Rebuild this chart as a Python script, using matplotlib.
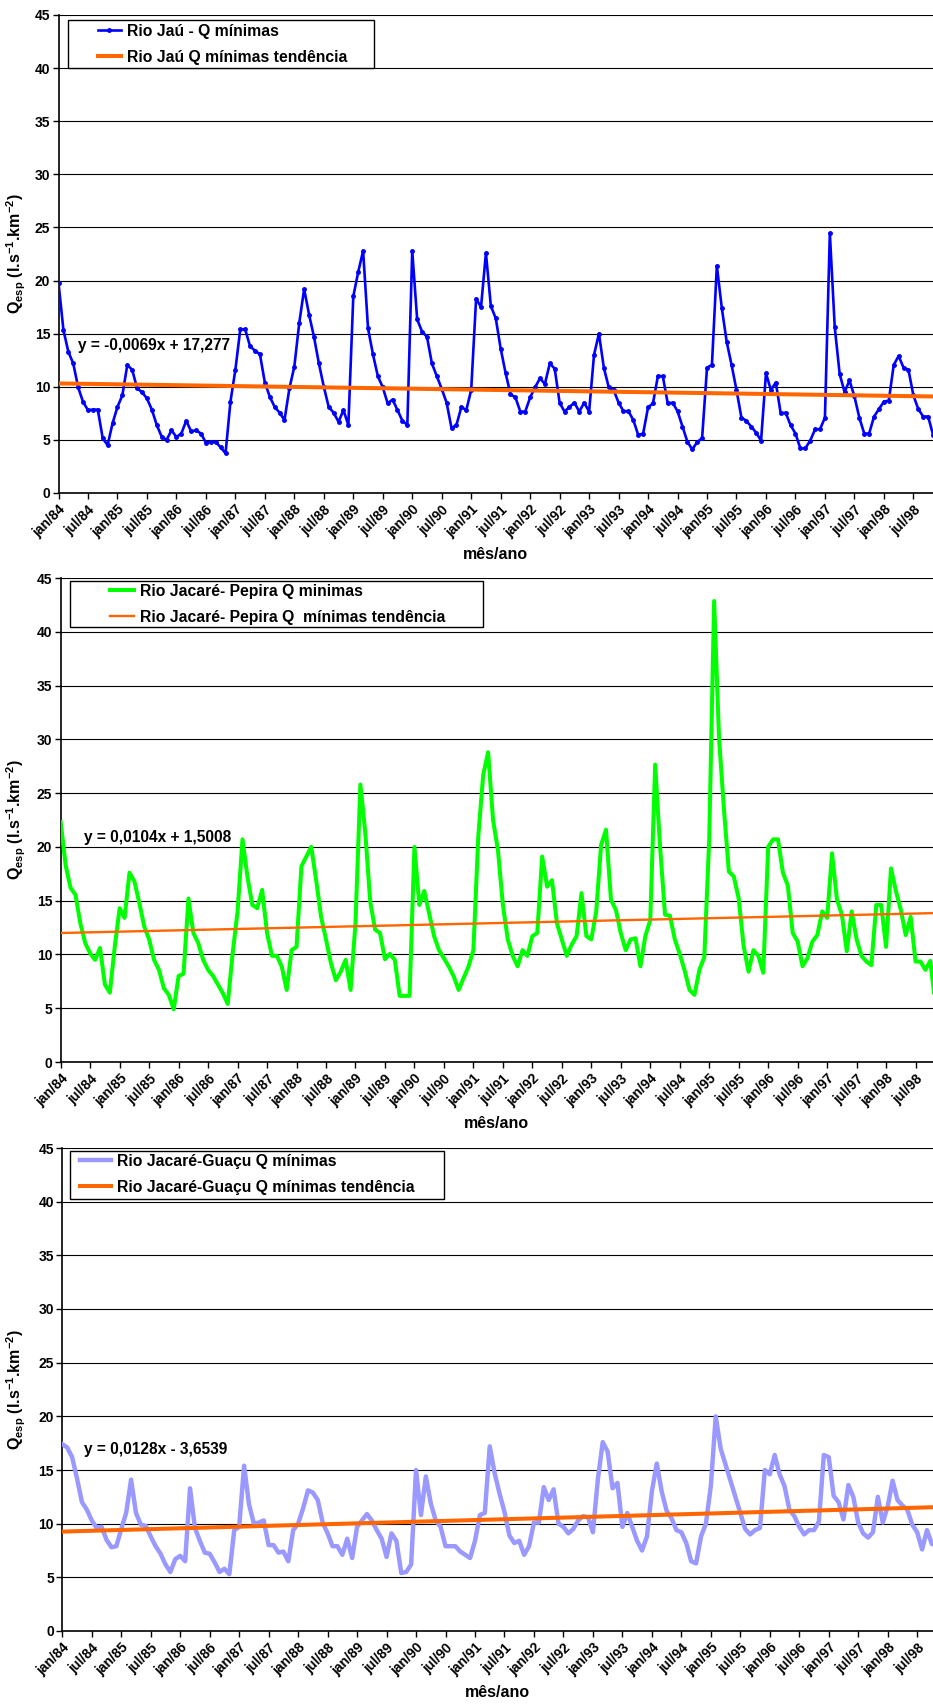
"""Specific minimum discharge (Q esp) for three rivers, 1984-1998,
with linear trend lines, recreated from an Excel chart."""

import matplotlib

matplotlib.use("Agg")
import matplotlib.pyplot as plt
import numpy as np
from matplotlib.lines import Line2D
from matplotlib.patches import Rectangle

plt.rcParams["font.family"] = ["Liberation Sans", "DejaVu Sans"]
plt.rcParams["font.weight"] = "bold"
plt.rcParams["axes.labelweight"] = "bold"
plt.rcParams["mathtext.fontset"] = "custom"
plt.rcParams["mathtext.rm"] = "Liberation Sans:bold"
plt.rcParams["mathtext.it"] = "Liberation Sans:bold"
plt.rcParams["mathtext.bf"] = "Liberation Sans:bold"

# month labels every 6 months, jan/84 .. jul/98
tick_labels = [f"{m}/{y:02d}" for y in range(84, 99) for m in ("jan", "jul")]

# monthly values, one row per year (jan/84 .. nov/98)
jau_q = [
    19.8, 15.35, 13.3, 12.2, 9.95, 8.57, 7.8, 7.85, 7.85, 5.15, 4.5, 6.56,
    8.1, 9.2, 12.05, 11.6, 9.85, 9.5, 8.9, 7.85, 6.4, 5.3, 5.0, 5.9,
    5.27, 5.6, 6.8, 5.8, 5.9, 5.6, 4.74, 4.8, 4.8, 4.3, 3.74, 8.6,
    11.6, 15.4, 15.4, 13.8, 13.4, 13.06, 10.4, 9.07, 8.1, 7.56, 6.87, 9.85,
    11.9, 16.0, 19.2, 16.8, 14.7, 12.2, 10.0, 8.1, 7.56, 6.7, 7.8, 6.4,
    18.5, 20.8, 22.8, 15.5, 13.06, 11.0, 9.95, 8.44, 8.8, 7.8, 6.8, 6.4,
    22.8, 16.35, 15.2, 14.7, 12.2, 11.0, 9.8, 8.5, 6.1, 6.4, 8.1, 7.8,
    9.7, 18.3, 17.5, 22.6, 17.6, 16.45, 13.6, 11.3, 9.3, 9.0, 7.66, 7.66,
    9.0, 9.95, 10.8, 10.26, 12.2, 11.7, 8.5, 7.66, 8.1, 8.5, 7.66, 8.5,
    7.66, 13.0, 15.0, 11.8, 9.95, 9.7, 8.5, 7.7, 7.7, 6.87, 5.46, 5.6,
    8.07, 8.44, 11.0, 11.0, 8.44, 8.5, 7.7, 6.25, 4.83, 4.1, 4.8, 5.15,
    11.8, 12.05, 21.4, 17.45, 14.25, 12.05, 9.7, 7.1, 6.8, 6.25, 5.68, 4.93,
    11.27, 9.7, 10.4, 7.5, 7.56, 6.4, 5.6, 4.2, 4.2, 4.93, 6.0, 6.0,
    7.1, 24.45, 15.6, 11.2, 9.5, 10.6, 9.1, 7.1, 5.6, 5.6, 7.2, 7.9,
    8.6, 8.7, 12.05, 12.9, 11.8, 11.6, 9.2, 7.9, 7.2, 7.2, 5.5,
]
pepira_q = [
    22.3, 18.3, 16.2, 15.55, 12.9, 11.05, 10.1, 9.5, 10.6, 7.2, 6.45, 10.7,
    14.3, 13.4, 17.6, 16.8, 14.8, 12.6, 11.4, 9.5, 8.57, 6.86, 6.24, 4.9,
    8.0, 8.2, 15.2, 12.0, 11.05, 9.5, 8.57, 8.0, 7.2, 6.4, 5.4, 10.1,
    14.0, 20.7, 17.25, 14.6, 14.3, 16.0, 12.0, 9.87, 9.87, 8.87, 6.7, 10.4,
    10.7, 18.2, 19.1, 20.0, 16.9, 13.5, 11.4, 9.2, 7.6, 8.4, 9.5, 6.7,
    12.9, 25.8, 21.3, 14.9, 12.3, 12.0, 9.56, 10.05, 9.5, 6.15, 6.15, 6.15,
    20.0, 14.6, 15.9, 13.8, 11.7, 10.4, 9.65, 8.87, 7.95, 6.7, 7.8, 8.87,
    10.4, 21.0, 26.7, 28.8, 22.5, 19.7, 14.6, 11.4, 9.87, 8.9, 10.4, 9.87,
    11.7, 12.0, 19.1, 16.3, 16.9, 12.9, 11.4, 9.87, 10.9, 11.7, 15.7, 11.7,
    11.4, 14.0, 20.2, 21.6, 15.1, 14.15, 12.0, 10.4, 11.4, 11.5, 8.9, 11.7,
    13.2, 27.65, 20.0, 13.7, 13.6, 11.4, 10.05, 8.5, 6.7, 6.24, 8.57, 9.75,
    20.7, 42.86, 30.1, 23.5, 17.7, 17.25, 15.2, 10.8, 8.4, 10.4, 9.87, 8.3,
    20.0, 20.7, 20.7, 17.6, 16.4, 12.0, 11.2, 8.9, 9.65, 11.2, 11.8, 14.0,
    13.4, 19.4, 15.1, 13.7, 10.3, 14.0, 11.4, 9.87, 9.34, 9.0, 14.6, 14.6,
    10.7, 18.0, 15.9, 14.15, 11.8, 13.5, 9.34, 9.34, 8.57, 9.4, 5.5,
]
guacu_q = [
    17.4, 17.1, 16.2, 14.2, 12.0, 11.3, 10.3, 9.6, 9.7, 8.5, 7.8, 7.9,
    9.5, 11.0, 14.1, 11.0, 9.9, 9.8, 8.8, 7.9, 7.2, 6.2, 5.5, 6.7,
    7.0, 6.5, 13.3, 9.6, 8.4, 7.3, 7.2, 6.4, 5.5, 5.8, 5.3, 9.4,
    9.7, 15.4, 11.8, 10.0, 10.1, 10.3, 8.0, 8.0, 7.3, 7.4, 6.5, 9.4,
    10.0, 11.4, 13.1, 12.9, 12.2, 10.1, 9.1, 7.9, 7.9, 7.1, 8.6, 6.8,
    9.7, 10.3, 10.9, 10.3, 9.4, 8.6, 6.9, 9.1, 8.4, 5.4, 5.5, 6.2,
    15.0, 10.8, 14.4, 11.9, 10.3, 9.7, 7.9, 7.9, 7.9, 7.4, 7.1, 6.8,
    8.4, 10.8, 11.0, 17.2, 14.7, 12.8, 11.1, 8.9, 8.2, 8.4, 7.1, 7.9,
    10.1, 10.1, 13.4, 12.2, 13.2, 10.0, 9.7, 9.1, 9.5, 10.3, 10.7, 10.6,
    9.2, 14.1, 17.6, 16.7, 13.3, 13.8, 9.7, 11.0, 9.7, 8.4, 7.5, 8.8,
    13.0, 15.6, 13.0, 11.2, 10.5, 9.4, 9.2, 8.2, 6.5, 6.3, 8.8, 10.0,
    13.5, 20.0, 17.0, 15.5, 14.0, 12.5, 11.0, 9.5, 9.0, 9.4, 9.6, 15.0,
    14.6, 16.4, 14.6, 13.5, 11.3, 10.7, 9.7, 9.0, 9.4, 9.4, 10.2, 16.4,
    16.2, 12.6, 12.0, 10.4, 13.6, 12.5, 10.1, 9.1, 8.7, 9.2, 12.5, 10.1,
    11.6, 14.0, 12.2, 11.7, 11.3, 9.9, 9.2, 7.6, 9.4, 8.1, 8.0,
]

# Excel trend lines: y = a*x + b, x counted in months (jan/84 -> 1009)
TREND_X0 = 1009
jau_trend = (-0.0069, 17.277)
pepira_trend = (0.0104, 1.5008)
guacu_trend = (0.0128, -3.6539)

ORANGE = "#FF6600"
FIG_W, FIG_H = 933, 1704


def draw_panel(rect_px, series, color, lw, marker, trend, trend_lw,
               eq_text, eq_xy, labels, box, handle_xy, handlelength):
    left, top, bottom = rect_px
    ax = fig.add_axes([left / FIG_W, 1 - bottom / FIG_H,
                       1 - left / FIG_W, (bottom - top) / FIG_H])
    x = np.arange(len(series))
    ax.plot(x, series, color=color, lw=lw, marker=marker, ms=2.5,
            solid_joinstyle="round", zorder=3, clip_on=True)
    a, b = trend
    ax.plot(x, a * (x + TREND_X0) + b, color=ORANGE, lw=trend_lw, zorder=4)

    ax.set_xlim(0, (FIG_W - left) / 4.913)
    ax.set_ylim(0, 45)
    ax.set_yticks(range(0, 46, 5))
    ax.set_xticks(range(0, 6 * len(tick_labels), 6))
    ax.set_xticklabels(tick_labels, rotation=45, ha="right", va="top",
                       rotation_mode="anchor", fontsize=10)
    ax.tick_params(axis="y", labelsize=10, length=4, width=1, pad=2)
    ax.tick_params(axis="x", length=4, width=1, pad=3)
    ax.grid(axis="y", color="black", lw=0.8)
    for side in ("top", "right"):
        ax.spines[side].set_visible(False)
    for side in ("left", "bottom"):
        ax.spines[side].set_linewidth(1.2)

    ax.set_ylabel(r"Q$_{\mathrm{esp}}$ (l.s$^{\mathrm{-1}}$.km$^{\mathrm{-2}}$)",
                  fontsize=11.5, fontweight="bold")
    ax.yaxis.set_label_coords(-(left - 28) / (FIG_W - left), 0.5)
    ax.set_xlabel("mês/ano", fontsize=11.5, fontweight="bold")
    ax.xaxis.set_label_coords(0.5, -0.112)

    ax.text(eq_xy[0], eq_xy[1], eq_text, fontsize=11.2, ha="left",
            va="center", zorder=5)

    x0, y0, x1, y1 = box
    ax.add_patch(Rectangle((x0, y0), x1 - x0, y1 - y0, transform=ax.transAxes,
                           facecolor="white", edgecolor="black", lw=1.0,
                           zorder=6, clip_on=False))
    handles = [
        Line2D([], [], color=color, lw=lw, marker=marker, ms=2.5),
        Line2D([], [], color=ORANGE, lw=trend_lw),
    ]
    leg = ax.legend(handles, labels, loc="upper left", bbox_to_anchor=handle_xy,
                    frameon=False, borderpad=0, borderaxespad=0,
                    handlelength=handlelength, handletextpad=0.4,
                    labelspacing=0.7, fontsize=11.3)
    leg.set_zorder(7)
    return ax


fig = plt.figure(figsize=(FIG_W / 100, FIG_H / 100), dpi=100)

draw_panel((58.5, 15, 493), jau_q, "#0000FF", 1.9, "o", jau_trend, 2.9,
           "y = -0,0069x + 17,277", (4.0, 13.9),
           ["Rio Jaú - Q mínimas", "Rio Jaú Q mínimas tendência"],
           (0.0105, 0.8897, 0.3608, 0.9895), (0.0448, 0.982), 1.5)

draw_panel((60.7, 578, 1062), pepira_q, "#00FF00", 2.9, None, pepira_trend, 1.7,
           "y = 0,0104x + 1,5008", (4.8, 20.9),
           ["Rio Jacaré- Pepira Q minimas",
            "Rio Jacaré- Pepira Q  mínimas tendência"],
           (0.0101, 0.899, 0.4845, 0.994), (0.0565, 0.988), 1.5)

draw_panel((62.3, 1148, 1631), guacu_q, "#9999FF", 3.2, None, guacu_trend, 2.9,
           "y = 0,0128x - 3,6539", (4.5, 16.9),
           ["Rio Jacaré-Guaçu Q mínimas", "Rio Jacaré-Guaçu Q mínimas tendência"],
           (0.0083, 0.894, 0.438, 0.994), (0.020, 0.988), 2.0)

fig.savefig("out.png", dpi=100)
